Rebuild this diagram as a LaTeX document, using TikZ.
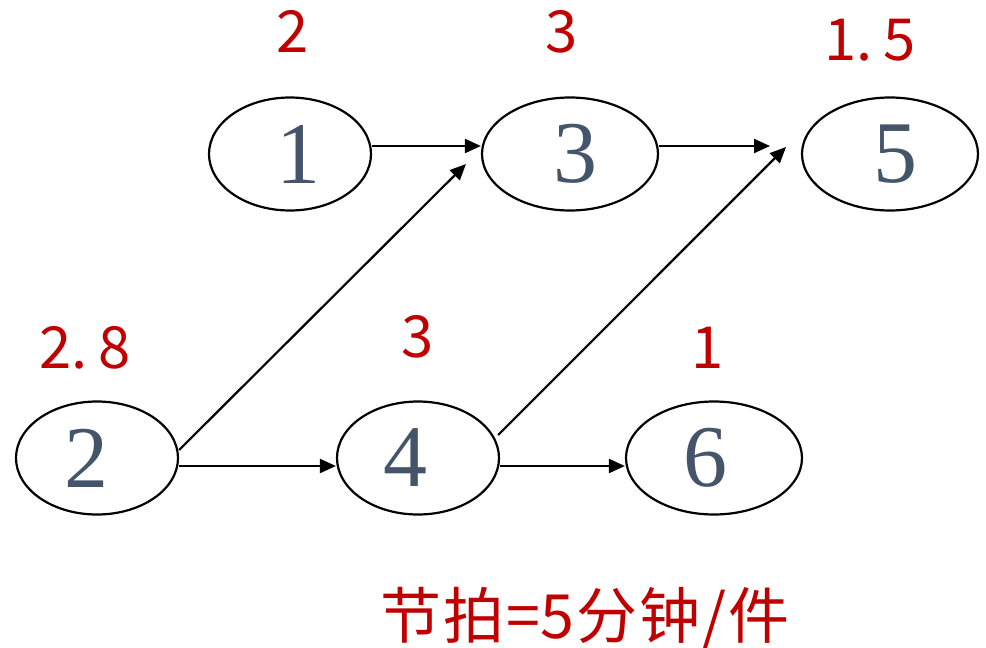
\documentclass[tikz,border=0pt]{standalone}
\usepackage{fontspec}
\setmainfont{Liberation Serif}
\newfontfamily\cjk{Noto Sans CJK SC}
\usetikzlibrary{shapes.geometric,arrows.meta,calc}
\definecolor{darkred}{HTML}{C00000}
\definecolor{slate}{HTML}{44546A}
\begin{document}
\begin{tikzpicture}[x=1pt,y=-1pt,
  station/.style={draw=black,line width=2.2pt,ellipse,inner sep=0pt,
    minimum width=162pt,minimum height=113pt,
    text=slate,font=\fontsize{88}{88}\selectfont},
  wide/.style={station,minimum width=176pt},
  timelabel/.style={text=darkred,font=\cjk\fontsize{58}{58}\selectfont,inner sep=0pt},
  flow/.style={draw=black,line width=2.2pt,-{Triangle[length=16pt,width=14pt]}}]
\useasboundingbox (0,0) rectangle (986,648);

% stations
\node[station] (n1) at (290,154) {\hspace*{16pt}1};
\node[wide]    (n3) at (570,154) {\hspace*{10pt}3};
\node[wide]    (n5) at (890,154) {\hspace*{10pt}5};
\node[station] (n2) at (97,458)  {2\hspace*{22pt}};
\node[station] (n4) at (418,458) {4\hspace*{26pt}};
\node[wide]    (n6) at (714,458) {6\hspace*{18pt}};

% operation times
\node[timelabel] (t1) at (293,31)  {2};
\node[timelabel] (t3) at (562,32)  {3};
\node[timelabel] (t5) at (870,40)  {1.\hspace{10pt}5};
\node[timelabel] (t2) at (85,348)  {2.\hspace{10pt}8};
\node[timelabel] (t4) at (418,337) {3};
\node[timelabel] (t6) at (708,348) {1};

% cycle time
\node[text=darkred,font=\cjk\fontsize{61}{61}\selectfont,inner sep=0pt] (takt) at (585,618)
  {节\kern2pt 拍\kern2pt =5\kern2pt 分\kern2pt 钟\kern2pt /\kern2pt 件};

% arrow ends that stop short of the target
\coordinate (e23) at (466,164);
\coordinate (e35) at (770,146);
\coordinate (e45) at (786,147);

% connectors
\draw[flow] ($(n1.east)+(0,-8)$) -- ($(n3.west)+(0,-8)$);
\draw[flow] ($(n3.east)+(0,-8)$) -- (e35);
\draw[flow] ($(n2.east)+(0,-8)$) -- (e23);
\draw[flow] ($(n4.east)+(-2,-23)$) -- (e45);
\draw[flow] ($(n2.east)+(0,8)$) -- ($(n4.west)+(0,8)$);
\draw[flow] ($(n4.east)+(0,8)$) -- ($(n6.west)+(0,8)$);
\end{tikzpicture}
\end{document}
